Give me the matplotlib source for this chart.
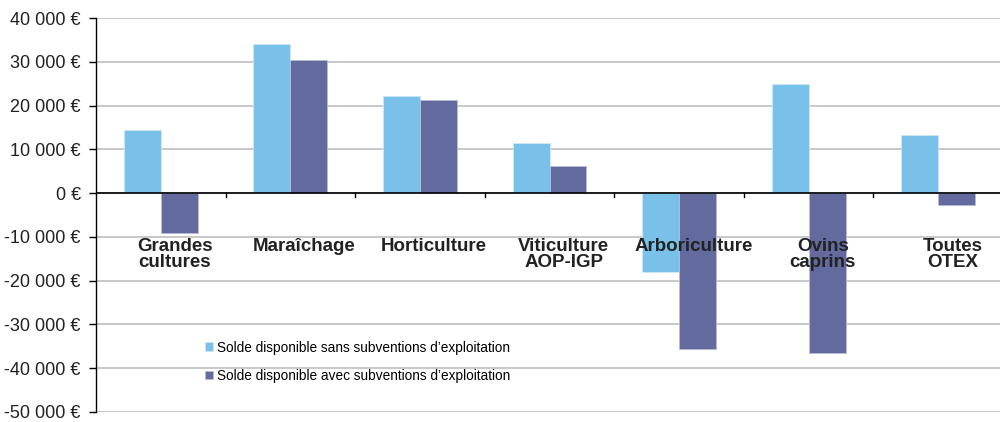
from matplotlib import pyplot as plt
import numpy as np

plt.rcParams['font.family'] = ['Liberation Sans', 'DejaVu Sans']

categories = ['Grandes\ncultures', 'Maraîchage', 'Horticulture', 'Viticulture\nAOP-IGP',
              'Arboriculture', 'Ovins\ncaprins', 'Toutes\nOTEX']
sans_subv = [14500, 34000, 22300, 11500, -18000, 25000, 13300]
avec_subv = [-9000, 30400, 21300, 6300, -35700, -36600, -2700]
yticks = [-50000, -40000, -30000, -20000, -10000, 0, 10000, 20000, 30000, 40000]

light = '#7AC1EA'
dark = '#636A9E'

fig = plt.figure(figsize=(10, 4.22), dpi=100)
ax = fig.add_axes([0.096, 0.0237, 0.907, 0.9336])

x = np.arange(len(categories))
w = 0.285
ax.bar(x - w / 2, sans_subv, w, color=light, edgecolor='#CFE8F7', linewidth=0.6,
       label='Solde disponible sans subventions d’exploitation', zorder=3)
ax.bar(x + w / 2, avec_subv, w, color=dark, edgecolor='#B9BCD6', linewidth=0.6,
       label='Solde disponible avec subventions d’exploitation', zorder=3)

ax.set_xlim(-0.5, len(categories) - 0.5)
ax.set_ylim(-50000, 40000)
ax.set_yticks(yticks)
ax.set_yticklabels([f'{v:,} €'.replace(',', ' ') for v in yticks], fontsize=13, color='#222222')
ax.yaxis.grid(True, color='#BFBFBF', linewidth=1.2, zorder=0)
ax.tick_params(axis='y', direction='out', length=5, width=1, pad=6)
ax.set_xticks([])

for s in ['top', 'right', 'bottom']:
    ax.spines[s].set_visible(False)
ax.spines['left'].set_linewidth(1)

# zero line with category separators
ax.axhline(0, color='black', linewidth=1.2, zorder=4)
for b in np.arange(0.5, len(categories) - 0.5, 1):
    ax.plot([b, b], [0, -800], color='black', linewidth=1, zorder=4, clip_on=False)

# category labels sit a little right of the group centre, as in the original
for i, c in enumerate(categories):
    ax.text(i + 0.11, -10300, c, ha='center', va='top', fontsize=13.5, fontweight='bold',
            color='#222222', linespacing=0.88, zorder=5)

leg = ax.legend(loc='upper left', bbox_to_anchor=(0.114, 0.195), frameon=False,
                fontsize=9.8, handlelength=0.6, handleheight=0.6, handletextpad=0.3,
                labelspacing=1.05, borderaxespad=0)

fig.savefig('out.png', dpi=100)
